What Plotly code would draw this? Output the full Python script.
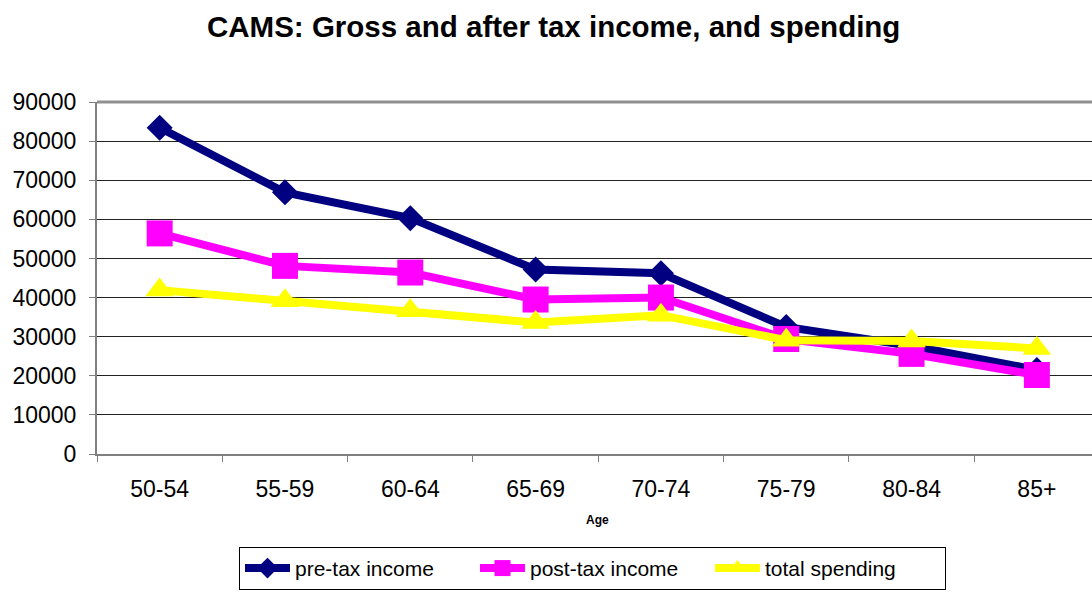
import plotly.graph_objects as go

ages = ["50-54", "55-59", "60-64", "65-69", "70-74", "75-79", "80-84", "85+"]
pre_tax = [83400, 66900, 60300, 47200, 46200, 32500, 27600, 21500]
post_tax = [56400, 48100, 46400, 39500, 40000, 29400, 25600, 20200]
spending = [41900, 39200, 36600, 33600, 35500, 29100, 28900, 27000]
y_ticks = list(range(0, 90001, 10000))
y_tick_text = [str(v) for v in y_ticks]

FONT = "Liberation Sans, Arial, sans-serif"

fig = go.Figure()
fig.add_trace(go.Scatter(x=ages, y=pre_tax, name="pre-tax income", mode="lines+markers",
                         line=dict(color="#000080", width=8),
                         marker=dict(symbol="diamond", size=20, color="#000080")))
fig.add_trace(go.Scatter(x=ages, y=post_tax, name="post-tax income", mode="lines+markers",
                         line=dict(color="#FF00FF", width=8),
                         marker=dict(symbol="square", size=26, color="#FF00FF")))
fig.add_trace(go.Scatter(x=ages, y=spending, name="total spending", mode="lines+markers",
                         line=dict(color="#FFFF00", width=8),
                         marker=dict(symbol="triangle-up", size=25, color="#FFFF00")))

fig.update_layout(
    width=1092, height=592,
    margin=dict(l=97, r=0, t=102, b=138, autoexpand=False),
    paper_bgcolor="white", plot_bgcolor="white",
    font=dict(family=FONT, color="black", size=23),
    title=dict(text="<b>CAMS: Gross and after tax income, and spending</b>",
               x=0.459, xref="paper", xanchor="center", y=0.955, yanchor="middle",
               font=dict(size=29.5, family=FONT)),
    showlegend=True,
    legend=dict(orientation="h", x=0.498, xanchor="center", y=-0.264, yanchor="top",
                bordercolor="#000000", borderwidth=1, font=dict(size=21),
                itemwidth=45, entrywidth=175, entrywidthmode="pixels",
                tracegroupgap=0, bgcolor="white"),
    xaxis=dict(type="category", range=[-0.5, 7.44], showgrid=False,
               showline=True, linecolor="#808080", linewidth=2,
               ticks="outside", tickson="boundaries", ticklen=6, tickcolor="#808080",
               tickfont=dict(size=23), ticklabelstandoff=13, fixedrange=True),
    yaxis=dict(range=[0, 90000], tickvals=y_ticks, ticktext=y_tick_text,
               showgrid=True, gridcolor="#222222",
               gridwidth=1, zeroline=False, showline=True, linecolor="#808080", linewidth=2,
               ticks="outside", ticklen=6, tickcolor="#808080", tickfont=dict(size=23),
               ticklabelstandoff=8, fixedrange=True),
    annotations=[dict(text="<b>Age</b>", xref="paper", yref="paper", x=0.503, y=-0.1875,
                      showarrow=False, font=dict(size=12), yanchor="middle")],
    shapes=[dict(type="line", xref="paper", yref="paper", x0=0, x1=1, y0=1, y1=1,
                 line=dict(color="#909090", width=3), layer="below")],
)

fig.write_html("out.html", config={"displayModeBar": False},
               post_script="document.body.style.margin='0';")
